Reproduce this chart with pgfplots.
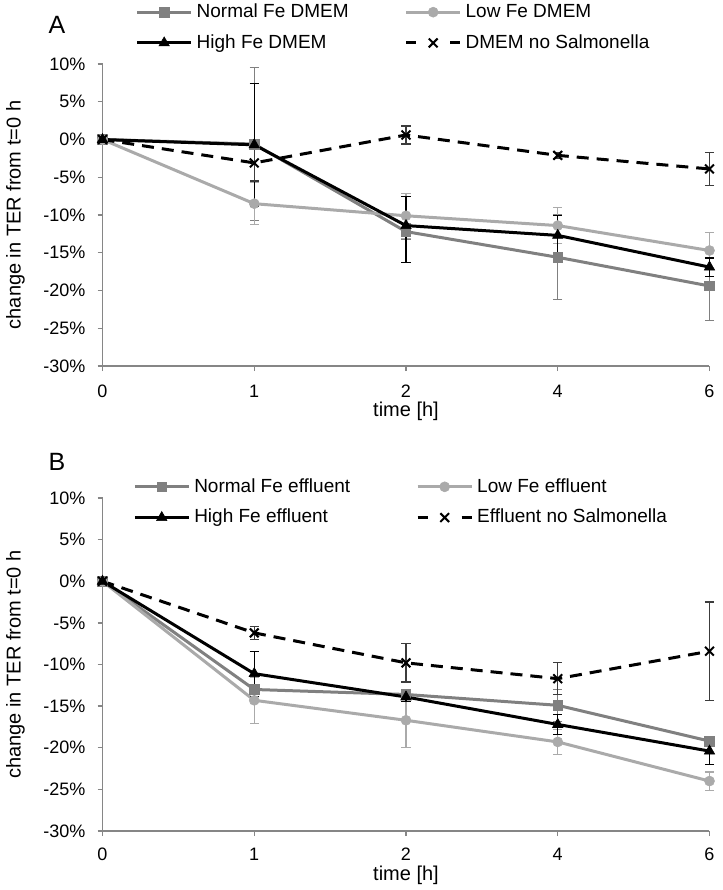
\documentclass[border=0pt]{standalone}
\usepackage{fontspec}
\setmainfont{Liberation Sans}
\usepackage{pgfplots}
\usepackage{pgfplotstable}
\pgfplotsset{compat=1.18}

\definecolor{cNormal}{RGB}{128,128,128}
\definecolor{cLow}{RGB}{170,170,170}
\definecolor{cAxis}{RGB}{134,134,134}
\definecolor{cDash}{RGB}{60,60,60}

% x index: 0,1,2,3,4 = 0,1,2,4,6 h
\pgfplotstableread{
x y ep em
0 0 0 0
1 -0.6 10.1 10.1
2 -12.2 1.0 1.0
3 -15.6 5.6 5.6
4 -19.4 4.6 4.6
}\normalA
\pgfplotstableread{
x y ep em
0 0 0 0
1 -8.5 2.8 2.8
2 -10.1 3.0 3.0
3 -11.4 2.4 2.4
4 -14.7 2.4 2.4
}\lowA
\pgfplotstableread{
x y ep em
0 0 0 0
1 -0.7 8.1 8.1
2 -11.4 3.8 4.9
3 -12.7 2.6 2.6
4 -16.9 1.2 1.2
}\highA
\pgfplotstableread{
x y ep em
0 0 0 0
1 -3.1 2.4 2.4
2 0.6 1.2 1.2
3 -2.1 0.4 0.4
4 -3.9 2.2 2.2
}\noneA

\pgfplotstableread{
x y ep em
0 0 0 0
1 -13.0 0.5 0.5
2 -13.6 0.5 0.5
3 -14.9 1.9 1.9
4 -19.2 0.6 0.6
}\normalB
\pgfplotstableread{
x y ep em
0 0 0 0
1 -14.3 2.8 2.8
2 -16.7 3.3 3.3
3 -19.3 1.5 1.5
4 -24.0 1.1 1.1
}\lowB
\pgfplotstableread{
x y ep em
0 0 0 0
1 -11.1 2.7 2.7
2 -13.9 0.5 0.5
3 -17.2 1.2 1.2
4 -20.4 1.6 1.6
}\highB
\pgfplotstableread{
x y ep em
0 0 0 0
1 -6.2 0.8 0.8
2 -9.8 2.3 2.3
3 -11.7 1.9 1.9
4 -8.4 5.9 5.9
}\noneB

\pgfplotsset{
  panel/.style={
    scale only axis, width=303.5pt,
    xmin=0, xmax=4, ymin=-30, ymax=10,
    xtick={0,1,2,3,4}, xticklabels={0,1,2,4,6},
    ytick={-30,-25,-20,-15,-10,-5,0,5,10},
    yticklabels={-30\%,-25\%,-20\%,-15\%,-10\%,-5\%,0\%,5\%,10\%},
    axis x line*=bottom, axis y line*=left,
    axis line style={-, draw=cAxis, line width=0.7pt},
    major tick style={draw=cAxis, line width=0.7pt},
    tick align=outside, major tick length=2.5pt,
    tick label style={font=\fontsize{9}{10}\selectfont},
    yticklabel style={xshift=-2.5pt},
    ylabel={change in TER from t=0 h},
    xlabel={time [h]},
    label style={font=\fontsize{10.5}{12}\selectfont},
    every axis y label/.style={at={(axis description cs:-0.1433,0.5)}, rotate=90, anchor=center},
    clip=false,
    legend columns=2,
    legend cell align=left,
    legend style={draw=none, fill=none, inner sep=0pt, anchor=north west,
      font=\fontsize{9.5}{11}\selectfont, row sep=3pt},
    legend image code/.code={\draw[mark repeat=2, mark phase=2, ##1] plot coordinates {(0pt,0pt) (13.5pt,0pt) (27pt,0pt)};},
  },
  sNormal/.style={color=cNormal, line width=1.5pt, mark=square*, mark size=2.4pt,
    mark options={solid, fill=cNormal, draw=cNormal, line width=0.3pt}},
  sLow/.style={color=cLow, line width=1.5pt, mark=*, mark size=2.5pt,
    mark options={solid, fill=cLow, draw=cLow, line width=0.3pt}},
  sHigh/.style={color=black, line width=1.5pt, mark=triangle*, mark size=3pt,
    mark options={solid, fill=black, draw=black, line width=0.3pt}},
  sNone/.style={color=black, line width=1.5pt, dash pattern=on 6pt off 4pt, mark=x, mark size=3.1pt,
    mark options={solid, draw=black, line width=1pt},
    legend image code/.code={\draw[##1, dash pattern=on 5pt off 17pt] (0pt,0pt) -- (27pt,0pt);
      \draw[mark repeat=2, mark phase=2, ##1, draw=none] plot coordinates {(0pt,0pt) (13.5pt,0pt) (27pt,0pt)};}},
  eb/.style={/pgfplots/error bars/y dir=both, /pgfplots/error bars/y explicit,
    /pgfplots/error bars/error bar style={solid, line width=0.6pt, draw=#1},
    /pgfplots/error bars/error mark options={solid, mark size=2.3pt, line width=0.6pt, draw=#1, rotate=90}},
}

\begin{document}
\begin{tikzpicture}
\path[use as bounding box] (0pt,0pt) rectangle (361.5pt,-445pt);
\node[font=\fontsize{12.5}{14}\selectfont] at (28.5pt,-12.5pt) {A};
\node[font=\fontsize{12.5}{14}\selectfont] at (28.5pt,-231pt) {B};

\begin{axis}[panel, at={(51.25pt,-183pt)}, anchor=south west, height=151pt,
  xticklabel style={yshift=-3.5pt},
  every axis x label/.style={at={(axis description cs:0.5,0)}, yshift=-22.9pt, anchor=center},
  legend style={at={(axis description cs:0.054,1.214)},
    /tikz/every even column/.append style={column sep=26pt}}]
\addplot[sNormal, eb=cNormal] table[x=x, y=y, y error plus=ep, y error minus=em] {\normalA};
\addlegendentry{Normal Fe DMEM}
\addplot[sLow, eb=cLow] table[x=x, y=y, y error plus=ep, y error minus=em] {\lowA};
\addlegendentry{Low Fe DMEM}
\addplot[sHigh, eb=black] table[x=x, y=y, y error plus=ep, y error minus=em] {\highA};
\addlegendentry{High Fe DMEM}
\addplot[sNone, eb=cDash] table[x=x, y=y, y error plus=ep, y error minus=em] {\noneA};
\addlegendentry{DMEM no Salmonella}
\end{axis}

\begin{axis}[panel, at={(51.25pt,-415.5pt)}, anchor=south west, height=166.5pt,
  xticklabel style={yshift=-2.5pt},
  every axis x label/.style={at={(axis description cs:0.5,0)}, yshift=-22pt, anchor=center},
  legend style={at={(axis description cs:0.05,1.072)},
    /tikz/every even column/.append style={column sep=31pt}}]
\addplot[sNormal, eb=cNormal] table[x=x, y=y, y error plus=ep, y error minus=em] {\normalB};
\addlegendentry{Normal Fe effluent}
\addplot[sLow, eb=cLow] table[x=x, y=y, y error plus=ep, y error minus=em] {\lowB};
\addlegendentry{Low Fe effluent}
\addplot[sHigh, eb=black] table[x=x, y=y, y error plus=ep, y error minus=em] {\highB};
\addlegendentry{High Fe effluent}
\addplot[sNone, eb=cDash] table[x=x, y=y, y error plus=ep, y error minus=em] {\noneB};
\addlegendentry{Effluent no Salmonella}
\end{axis}
\end{tikzpicture}
\end{document}
